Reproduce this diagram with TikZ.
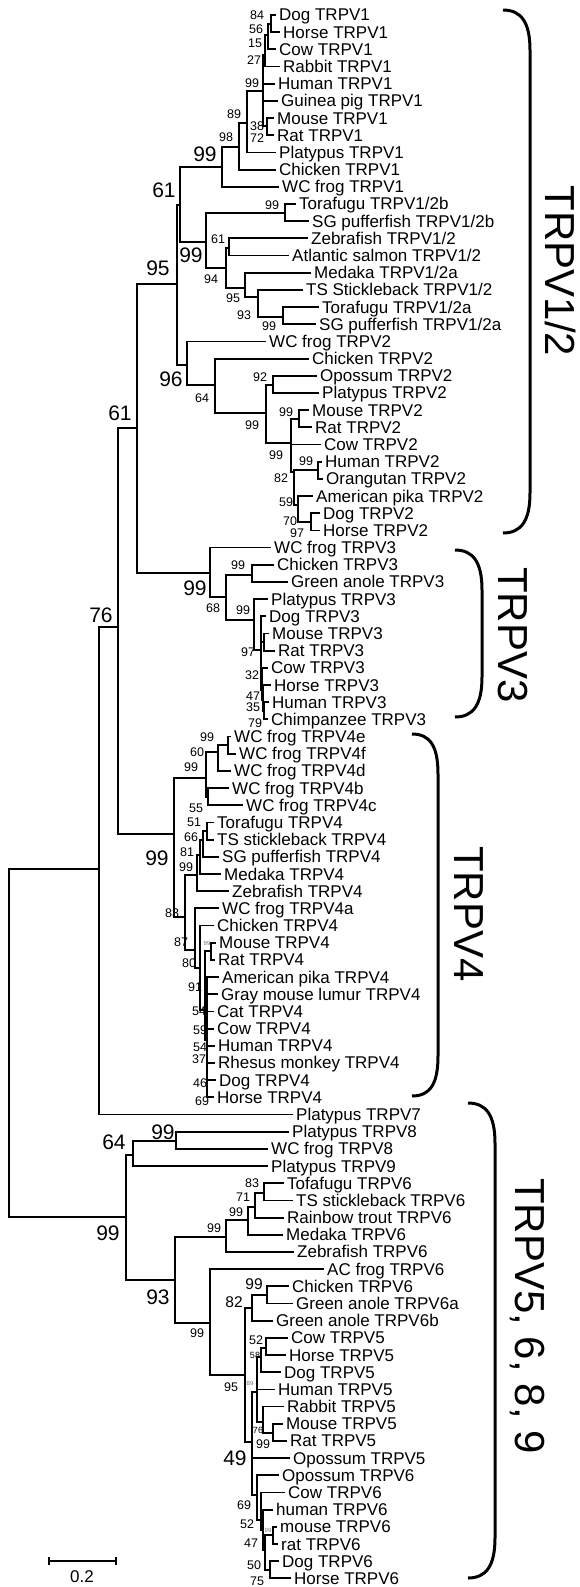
\documentclass[tikz,border=0pt]{standalone}
\usepackage{fontspec}
\setmainfont{Liberation Sans}
\usepackage{tikz}
\usetikzlibrary{arrows.meta}
\newcommand{\cladebrace}[4]{%
  \draw[groupbrace] (#1,#3) .. controls ({#1+18},#3) and (#2,{#3+12}) .. (#2,{#3+40})
    -- (#2,{#4-40}) .. controls (#2,{#4-12}) and ({#1+18},#4) .. (#1,#4);}

\begin{document}
\begin{tikzpicture}[
      x=1pt,y=-1pt,
      branch/.style={line width=1.8pt,line cap=rect},
      leaf/.style={anchor=base west,inner sep=0pt,font=\fontsize{17}{17}\selectfont},
      bs/.style={inner sep=0pt,font=\fontsize{12.5}{12.5}\selectfont},
      bsmid/.style={inner sep=0pt,font=\fontsize{15.5}{15.5}\selectfont},
      bsbig/.style={inner sep=0pt,font=\fontsize{21}{21}\selectfont},
      bsmini/.style={inner sep=0pt,font=\fontsize{9}{9}\selectfont},
      bstiny/.style={inner sep=0pt,font=\fontsize{6}{6}\selectfont,black!55},
      groupbrace/.style={line width=3pt},
      grouplabel/.style={rotate=-90,inner sep=0pt,font=\fontsize{42}{42}\selectfont},
      scalebar/.style={line width=2pt,{Bar[width=8pt]}-{Bar[width=8pt]}},
    ]
    \useasboundingbox (0,0) rectangle (579,1587);

    % Leaves (tip x, one row each)
    \foreach \n/\x/\t [count=\i] in {
      v1dog/275/Dog TRPV1, v1horse/279/Horse TRPV1, v1cow/275/Cow TRPV1,
      v1rabbit/279/Rabbit TRPV1, v1human/274/Human TRPV1, v1guinea/277/Guinea pig TRPV1,
      v1mouse/273/Mouse TRPV1, v1rat/273/Rat TRPV1, v1platypus/275/Platypus TRPV1,
      v1chicken/275/Chicken TRPV1, v1frog/278/WC frog TRPV1,
      v12torab/295/{Torafugu TRPV1/2b}, v12sgb/308/{SG pufferfish TRPV1/2b},
      v12zebra/307/{Zebrafish TRPV1/2}, v12salmon/288/{Atlantic salmon TRPV1/2},
      v12medaka/310/{Medaka TRPV1/2a}, v12stickle/302/{TS Stickleback TRPV1/2},
      v12toraa/318/{Torafugu TRPV1/2a}, v12sga/315/{SG pufferfish TRPV1/2a},
      v2frog/265/WC frog TRPV2, v2chicken/308/Chicken TRPV2, v2opossum/316/Opossum TRPV2,
      v2platypus/318/Platypus TRPV2, v2mouse/308/Mouse TRPV2, v2rat/311/Rat TRPV2,
      v2cow/320/Cow TRPV2, v2human/321/Human TRPV2, v2orang/322/Orangutan TRPV2,
      v2pika/312/American pika TRPV2, v2dog/319/Dog TRPV2, v2horse/319/Horse TRPV2,
      v3frog/270/WC frog TRPV3, v3chicken/273/Chicken TRPV3, v3anole/287/Green anole TRPV3,
      v3platypus/267/Platypus TRPV3, v3dog/265/Dog TRPV3, v3mouse/268/Mouse TRPV3,
      v3rat/274/Rat TRPV3, v3cow/267/Cow TRPV3, v3horse/270/Horse TRPV3,
      v3human/268/Human TRPV3, v3chimp/267/Chimpanzee TRPV3,
      v4e/230/WC frog TRPV4e, v4f/235/WC frog TRPV4f, v4d/230/WC frog TRPV4d,
      v4b/228/WC frog TRPV4b, v4c/242/WC frog TRPV4c,
      v4tora/213/Torafugu TRPV4, v4stickle/213/TS stickleback TRPV4,
      v4sg/218/SG pufferfish TRPV4, v4medaka/220/Medaka TRPV4, v4zebra/228/Zebrafish TRPV4,
      v4a/218/WC frog TRPV4a, v4chicken/213/Chicken TRPV4, v4mouse/215/Mouse TRPV4,
      v4rat/214/Rat TRPV4, v4pika/218/American pika TRPV4, v4lumur/217/Gray mouse lumur TRPV4,
      v4cat/213/Cat TRPV4, v4cow/213/Cow TRPV4, v4human/214/Human TRPV4,
      v4rhesus/214/Rhesus monkey TRPV4, v4dog/215/Dog TRPV4, v4horse/213/Horse TRPV4,
      v7platypus/292/Platypus TRPV7,
      v8platypus/288/Platypus TRPV8, v8frog/267/WC frog TRPV8, v9platypus/267/Platypus TRPV9,
      v6tora/283/Tofafugu TRPV6, v6stickle/292/TS stickleback TRPV6,
      v6trout/283/Rainbow trout TRPV6, v6medaka/282/Medaka TRPV6, v6zebra/293/Zebrafish TRPV6,
      v6acfrog/323/AC frog TRPV6, v6chicken/288/Chicken TRPV6,
      v6anolea/292/Green anole TRPV6a, v6anoleb/272/Green anole TRPV6b,
      v5cow/287/Cow TRPV5, v5horse/285/Horse TRPV5, v5dog/280/Dog TRPV5,
      v5human/274/Human TRPV5, v5rabbit/283/Rabbit TRPV5, v5mouse/282/Mouse TRPV5,
      v5rat/286/Rat TRPV5, v5opossum/289/Opossum TRPV5,
      v6opossum/278/Opossum TRPV6, v6cow/284/Cow TRPV6, v6human/272/human TRPV6,
      v6mouse/276/mouse TRPV6, v6rat/277/rat TRPV6, v6dog/278/Dog TRPV6, v6horse/290/Horse TRPV6}
    {
      \coordinate (\n) at (\x,{15+(\i-1)*17.18});
      \node[leaf] (\n-l) at ({\x+4},{21+(\i-1)*17.18}) {\t};
    }

    % Internal nodes
    \foreach \n/\x/\y in {
      root/9/1043, nA/99/869, n76/118/627, n61L/137/428, n95/177/284, n61U/180/205,
      nV1/222/167, n98/239/147, n89/247/123, nMam1/263/91, n27/265/55, n56/268/35,
      n84/271/24, n38/267/126,
      nFish/206/242, n99b/285/213, n94/226/268, n61f/229/248, n95f/245/288,
      n93f/258/297, n99a/283/317,
      n96/187/365, n64v2/215/385, n99v2/266/413, n92/273/385, n99c/291/443,
      n99mr2/299/419, n82/294/472, n99ho/318/470, n59/298/505, n70/311/522,
      nV3/210/573, n68/226/597, n99ca/252/575, n99m3/254/620, nM3/261/650,
      n97/264/642, n32/262/690, n47/263/700, n35/264/711,
      nV4/174/834, n99w/206/778, n60/218/752, n99ef/228/745, n55/208/797,
      n83/185/917, n99f4/197/875, n81/200/855, n66/203/840, n51/207/831,
      n87/195/950, n80/200/968, nM4/205/1010, n99mr4/211/951, n91/207/1040,
      n99L/126/1217, n64/133/1155, n99v8/176/1141, n93/175/1280,
      n99fish6/226/1237, n99f6/248/1220, n71/255/1207, n83f/264/1193,
      n99lo/210/1323, n95m/245/1375, n82b/252/1308, n99cg/267/1295,
      n49/252/1442, n89m/257/1392, n58/261/1357, n52/266/1348, n76m/263/1422,
      n99mr5/273/1433, n69/257/1495, n52b/261/1520, n47b/263/1530,
      n50/265/1550, n99mr6/273/1535, n75/270/1570}
      \coordinate (\n) at (\x,\y);

    % Branches
    \foreach \p/\c in {
      root/nA, root/n99L, nA/n76, nA/v7platypus, n76/n61L, n76/nV4,
      n61L/n95, n61L/nV3, n95/n61U, n95/n96, n61U/nV1, n61U/nFish,
      nV1/n98, nV1/v1frog, n98/n89, n98/v1chicken, n89/nMam1, n89/v1platypus,
      nMam1/n27, nMam1/v1human, nMam1/v1guinea, nMam1/n38, n27/n56, n27/v1rabbit,
      n56/n84, n56/v1cow, n84/v1dog, n84/v1horse, n38/v1mouse, n38/v1rat,
      nFish/n99b, nFish/n94, n99b/v12torab, n99b/v12sgb, n94/n61f, n94/n95f,
      n61f/v12zebra, n61f/v12salmon, n95f/v12medaka, n95f/n93f,
      n93f/v12stickle, n93f/n99a, n99a/v12toraa, n99a/v12sga,
      n96/v2frog, n96/n64v2, n64v2/v2chicken, n64v2/n99v2, n99v2/n92, n99v2/n99c,
      n92/v2opossum, n92/v2platypus, n99c/n99mr2, n99c/v2cow, n99c/n82,
      n99mr2/v2mouse, n99mr2/v2rat, n82/n99ho, n82/n59, n99ho/v2human, n99ho/v2orang,
      n59/v2pika, n59/n70, n70/v2dog, n70/v2horse,
      nV3/v3frog, nV3/n68, n68/n99ca, n68/n99m3, n99ca/v3chicken, n99ca/v3anole,
      n99m3/v3platypus, n99m3/nM3, nM3/v3dog, nM3/n97, nM3/n32, n97/v3mouse, n97/v3rat,
      n32/v3cow, n32/n47, n47/v3horse, n47/n35, n35/v3human, n35/v3chimp,
      nV4/n99w, nV4/n83, n99w/n60, n99w/n55, n60/n99ef, n60/v4d, n99ef/v4e, n99ef/v4f,
      n55/v4b, n55/v4c, n83/n99f4, n83/n87, n99f4/n81, n99f4/v4zebra,
      n81/n66, n81/v4medaka, n66/n51, n66/v4sg, n51/v4tora, n51/v4stickle,
      n87/v4a, n87/n80, n80/v4chicken, n80/nM4, nM4/n99mr4, nM4/n91,
      n99mr4/v4mouse, n99mr4/v4rat, n91/v4pika, n91/v4lumur, n91/v4cat, n91/v4cow,
      n91/v4human, n91/v4rhesus, n91/v4dog, n91/v4horse,
      n99L/n64, n99L/n93, n64/n99v8, n64/v9platypus, n99v8/v8platypus, n99v8/v8frog,
      n93/n99fish6, n93/n99lo, n99fish6/n99f6, n99fish6/v6zebra, n99f6/n71, n99f6/v6medaka,
      n71/n83f, n71/v6trout, n83f/v6tora, n83f/v6stickle,
      n99lo/v6acfrog, n99lo/n95m, n95m/n82b, n95m/n49, n82b/n99cg, n82b/v6anoleb,
      n99cg/v6chicken, n99cg/v6anolea,
      n49/n89m, n49/v5opossum, n49/n69, n89m/n58, n89m/v5human, n89m/n76m,
      n58/n52, n58/v5dog, n52/v5cow, n52/v5horse, n76m/v5rabbit, n76m/n99mr5,
      n99mr5/v5mouse, n99mr5/v5rat, n69/v6opossum, n69/n52b, n52b/v6cow, n52b/n47b,
      n47b/v6human, n47b/n50, n50/n99mr6, n50/n75, n99mr6/v6mouse, n99mr6/v6rat,
      n75/v6dog, n75/v6horse}
      \draw[branch] (\p) |- (\c);

    % Bootstrap values
    \foreach \x/\y/\v [count=\k] in {
      257/15/84, 256/29/56, 255/43/15, 254/60/27, 252/83/99, 234/114/89, 257/126/38,
      226/137/98, 257/138/72, 272/205/99, 218/239/61, 211/279/94, 233/298/95,
      244/315/93, 269/326/99, 260/377/92, 202/398/64, 252/425/99, 286/412/99,
      276/455/99, 306/461/99, 281/478/82, 286/502/59, 290/521/70, 297/533/97,
      238/565/99, 213/608/68, 243/610/99, 248/652/97, 252/675/32, 253/696/47,
      253/707/35, 255/723/79, 207/737/99, 197/752/60, 191/767/99, 196/808/55,
      194/822/51, 191/837/66, 187/852/81, 186/867/99, 172/913/83, 181/942/87,
      189/963/80, 195/987/91, 199/1011/54, 200/1030/59, 200/1047/54, 199/1059/37,
      200/1083/46, 202/1101/69, 252/1183/83, 243/1197/71, 236/1212/99, 214/1228/99,
      197/1333/99, 256/1340/52, 231/1387/95, 263/1444/99, 244/1505/69, 247/1524/52,
      251/1543/47, 254/1565/50, 257/1581/75}
      \node[bs] (bs\k) at (\x,\y) {\v};
    \foreach \x/\y/\v [count=\k] in {254/1284/99, 234/1302/82}
      \node[bsmid] (bsm\k) at (\x,\y) {\v};
    \foreach \x/\y/\v [count=\k] in {
      205/154/99, 164/190/61, 191/255/99, 158/268/95, 171/379/96, 120/413/61,
      101/615/76, 195/588/99, 157/858/99, 163/1132/99, 114/1142/64, 108/1233/99,
      158/1297/93, 235/1458/49}
      \node[bsbig] (bsb\k) at (\x,\y) {\v};
    \foreach \x/\y/\v [count=\k] in {255/1355/58, 258/1430/76}
      \node[bsmini] (bsn\k) at (\x,\y) {\v};
    \foreach \x/\y/\v [count=\k] in {207/943/99, 250/1383/89, 268/1530/99}
      \node[bstiny] (bst\k) at (\x,\y) {\v};

    % Subfamily brackets
    \cladebrace{503}{530}{10}{533}
    \cladebrace{455}{482}{550}{717}
    \cladebrace{412}{438}{734}{1096}
    \cladebrace{468}{495}{1103}{1578}
    \node[grouplabel] (gV12) at (561,271) {TRPV1/2};
    \node[grouplabel] (gV3) at (513,635) {TRPV3};
    \node[grouplabel] (gV4) at (469,914) {TRPV4};
    \node[grouplabel] (gV5) at (527,1316) {TRPV5, 6, 8, 9};

    % Scale bar
    \coordinate (sbl) at (48,1561);
    \coordinate (sbr) at (117,1561);
    \draw[scalebar] (sbl) -- (sbr);
    \node[inner sep=0pt,font=\fontsize{17}{17}\selectfont] (sbtext) at (82,1577) {0.2};

  \end{tikzpicture}
\end{document}
